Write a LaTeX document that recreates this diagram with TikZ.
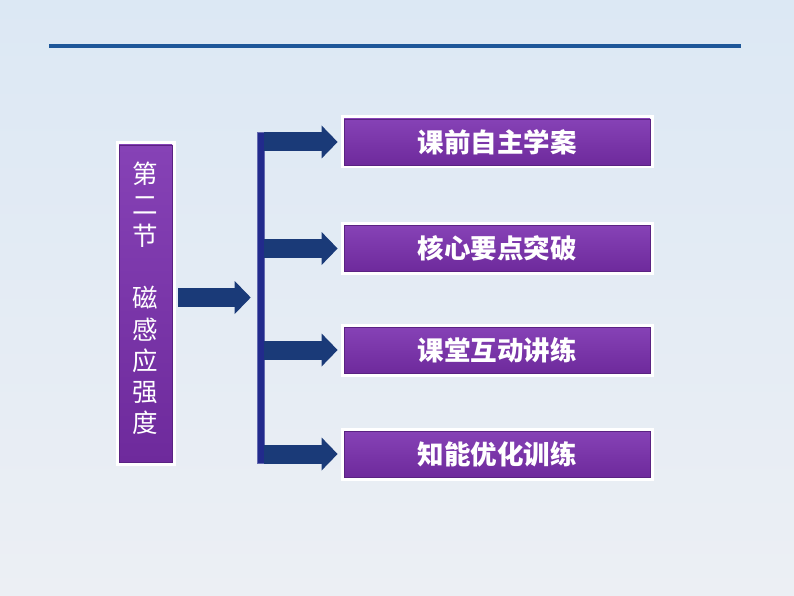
\documentclass[tikz,border=0pt]{standalone}
\usepackage{fontspec}
\newfontfamily\cjk{Noto Sans CJK SC}
\usetikzlibrary{arrows.meta}
\definecolor{bgtop}{HTML}{DCE8F4}
\definecolor{bgbot}{HTML}{ECEFF4}
\definecolor{rulecol}{HTML}{1E5799}
\definecolor{purtop}{HTML}{8642B6}
\definecolor{purbot}{HTML}{6E2A9C}
\definecolor{purline}{HTML}{5A2282}
\definecolor{navy}{HTML}{1A3A78}
\definecolor{barcol}{HTML}{222A8C}
\tikzset{
  purplebox/.style={rectangle, top color=purtop, bottom color=purbot, draw=purline, line width=0.8pt,
    preaction={draw=white, line width=7pt}, inner sep=0pt},
  itembox/.style={purplebox, minimum width=306pt, minimum height=46pt, text=white,
    font=\cjk\bfseries\fontsize{26.5}{29}\selectfont},
  blockarrow/.style={draw=navy, line width=19pt,
    -{Triangle[width=33pt,length=16pt,line width=0pt]}},
}
\begin{document}
\begin{tikzpicture}[x=1pt,y=-1pt]
\useasboundingbox (0,0) rectangle (794,596);
\shade[top color=bgtop, bottom color=bgbot] (0,0) rectangle (794,596);
\coordinate (ruleL) at (49,46.5);
\coordinate (ruleR) at (741,46.5);
\draw[rulecol, line width=4pt] (ruleL) -- (ruleR);

\node[purplebox, minimum width=53pt, minimum height=317pt] (lbox) at (145.5,303.5) {};
\node[text=white, font=\cjk\fontsize{25.5}{31.2}\selectfont, align=center, anchor=north]
  (ltext) at (145.5,158) {第\\二\\节\\\strut\\磁\\感\\应\\强\\度};

\node[rectangle, fill=barcol, draw=barcol!70!white, line width=0.6pt, minimum width=7pt, minimum height=331pt, inner sep=0pt]
  (bar) at (260.5,297.5) {};

\node[itembox] (b1) at (497,142) {课前自主学案};
\node[itembox] (b2) at (497,248.5) {核心要点突破};
\node[itembox] (b3) at (497,350) {课堂互动讲练};
\node[itembox] (b4) at (497,454) {知能优化训练};

\draw[blockarrow] ([xshift=6pt]lbox.east |- bar.west) -- ([xshift=-6pt]bar.west);
\foreach \b in {b1,b2,b3,b4}
  \draw[blockarrow] (bar.east |- \b.west) -- ([xshift=-6pt]\b.west);
\end{tikzpicture}
\end{document}
